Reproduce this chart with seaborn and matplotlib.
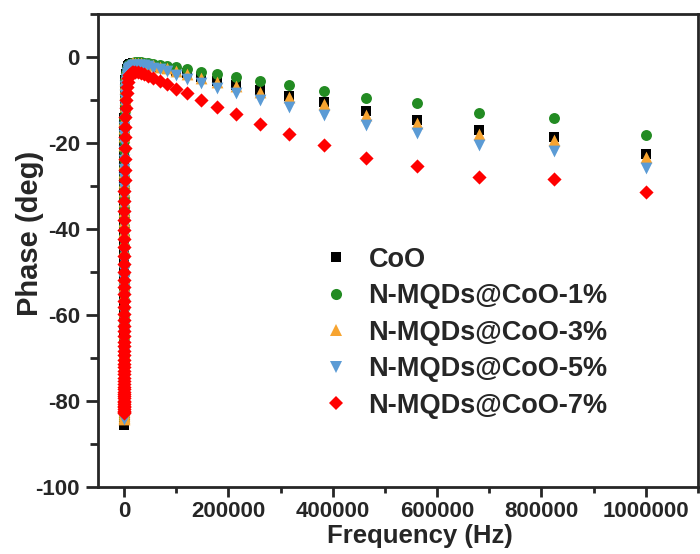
import matplotlib
matplotlib.use("Agg")
import matplotlib.pyplot as plt
import seaborn as sns
import numpy as np
import pandas as pd
from matplotlib.ticker import MultipleLocator
from matplotlib.lines import Line2D

freq = [1000000, 825000, 681000, 562000, 464000, 383000, 316000, 261000, 215000, 178000, 147000, 121000,
        100000, 82500, 68100, 56200, 46400, 38300, 31600, 26100, 21500, 17800, 14700, 12100,
        10000, 8250, 6810, 5620, 4640, 3830, 3160, 2610, 2150, 1780, 1470, 1210,
        1000, 825, 681, 562, 464, 383, 316, 261, 215, 178, 147, 121,
        100, 82.5, 68.1, 56.2, 46.4, 38.3, 31.6, 26.1, 21.5, 17.8, 14.7, 12.1,
        10, 8.25, 6.81, 5.62, 4.64, 3.83, 3.16, 2.61, 2.15, 1.78, 1.47, 1.21,
        1, 0.825, 0.681, 0.562, 0.464, 0.383, 0.316, 0.261, 0.215, 0.178, 0.147, 0.121, 0.1]

phase_coo = [-22.7, -18.7, -17.0, -14.7, -12.7, -10.6, -9.0, -7.7, -6.5, -5.6, -4.7, -3.8,
             -3.2, -2.8, -2.4, -2.1, -1.9, -1.7, -1.6, -1.5, -1.5, -1.5, -1.6, -1.7,
             -1.9, -2.1, -2.4, -2.8, -3.3, -3.9, -4.6, -5.4, -6.3, -7.3, -8.5, -9.8,
             -11.2, -12.7, -14.3, -16.0, -17.8, -19.7, -21.7, -23.8, -26.0, -28.2, -30.5, -32.8,
             -35.1, -37.4, -39.7, -42.0, -44.2, -46.4, -48.6, -50.7, -52.8, -54.8, -56.8, -58.7,
             -60.6, -62.4, -64.1, -65.8, -67.4, -68.9, -70.4, -71.8, -73.1, -74.4, -75.6, -76.7,
             -77.8, -78.8, -79.7, -80.6, -81.4, -82.1, -82.8, -83.4, -83.9, -84.4, -84.8, -85.2, -85.6]

phase_1 = [-18.2, -14.3, -13.1, -10.8, -9.6, -7.9, -6.5, -5.6, -4.6, -4.0, -3.6, -2.9,
           -2.4, -2.1, -1.9, -1.7, -1.5, -1.4, -1.3, -1.3, -1.3, -1.4, -1.5, -1.6,
           -1.8, -2.0, -2.3, -2.7, -3.2, -3.8, -4.5, -5.3, -6.2, -7.2, -8.4, -9.7,
           -11.1, -12.6, -14.2, -15.9, -17.7, -19.6, -21.6, -23.7, -25.8, -28.0, -30.2, -32.5,
           -34.8, -37.1, -39.4, -41.7, -43.9, -46.1, -48.3, -50.4, -52.5, -54.5, -56.5, -58.4,
           -60.2, -62.0, -63.7, -65.3, -66.9, -68.4, -69.8, -71.2, -72.5, -73.7, -74.9, -76.0,
           -77.0, -78.0, -78.9, -79.7, -80.5, -81.2, -81.8, -82.4, -82.9, -83.3, -83.7, -84.0, -84.3]

phase_3 = [-23.2, -19.3, -17.9, -15.3, -13.5, -11.0, -9.3, -8.1, -6.8, -5.8, -4.8, -3.9,
           -3.2, -2.7, -2.3, -2.0, -1.8, -1.6, -1.5, -1.4, -1.4, -1.4, -1.5, -1.6,
           -1.8, -2.0, -2.3, -2.7, -3.2, -3.8, -4.5, -5.3, -6.2, -7.3, -8.5, -9.9,
           -11.4, -13.0, -14.7, -16.5, -18.4, -20.4, -22.5, -24.6, -26.8, -29.0, -31.3, -33.6,
           -35.9, -38.2, -40.5, -42.7, -44.9, -47.1, -49.2, -51.3, -53.3, -55.3, -57.2, -59.0,
           -60.8, -62.5, -64.2, -65.8, -67.3, -68.8, -70.2, -71.5, -72.8, -74.0, -75.1, -76.2,
           -77.2, -78.1, -79.0, -79.8, -80.5, -81.2, -81.8, -82.4, -82.9, -83.3, -83.7, -84.0, -84.3]

phase_5 = [-25.8, -21.8, -20.5, -17.8, -15.9, -13.5, -11.6, -10.0, -8.3, -7.3, -6.1, -5.2,
           -4.2, -3.4, -2.9, -2.5, -2.2, -2.0, -1.9, -1.9, -1.9, -2.0, -2.1, -2.3,
           -2.6, -2.9, -3.3, -3.8, -4.4, -5.1, -5.9, -6.8, -7.8, -8.9, -10.1, -11.5,
           -13.0, -14.6, -16.3, -18.1, -20.0, -22.0, -24.0, -26.1, -28.2, -30.4, -32.6, -34.8,
           -37.0, -39.2, -41.4, -43.6, -45.7, -47.8, -49.9, -51.9, -53.9, -55.8, -57.7, -59.5,
           -61.2, -62.9, -64.5, -66.1, -67.6, -69.0, -70.4, -71.7, -72.9, -74.1, -75.2, -76.2,
           -77.2, -78.1, -79.0, -79.8, -80.5, -81.2, -81.8, -82.3, -82.8, -83.2, -83.6, -83.9, -84.2]

phase_7 = [-31.4, -28.3, -28.0, -25.4, -23.4, -20.4, -18.0, -15.5, -13.3, -11.6, -10.0, -8.5,
           -7.5, -6.3, -5.6, -5.0, -4.5, -4.1, -3.8, -3.6, -3.5, -3.5, -3.6, -3.9,
           -4.3, -5.0, -5.9, -7.0, -8.4, -10.0, -11.9, -14.0, -16.3, -18.7, -21.2, -23.7,
           -26.2, -28.7, -31.1, -33.5, -35.8, -38.0, -40.2, -42.3, -44.3, -46.3, -48.2, -50.0,
           -51.8, -53.5, -55.1, -56.7, -58.2, -59.7, -61.1, -62.5, -63.8, -65.0, -66.2, -67.3,
           -68.4, -69.4, -70.4, -71.3, -72.2, -73.0, -73.8, -74.6, -75.3, -76.0, -76.7, -77.3,
           -77.9, -78.4, -78.9, -79.4, -79.9, -80.3, -80.7, -81.1, -81.5, -81.9, -82.3, -82.6, -82.9]

labels = ["CoO", "N-MQDs@CoO-1%", "N-MQDs@CoO-3%", "N-MQDs@CoO-5%", "N-MQDs@CoO-7%"]
series = [phase_coo, phase_1, phase_3, phase_5, phase_7]
colors = ["#000000", "#228B22", "#F7A430", "#5B9BD5", "#FF0000"]
markers = ["s", "o", "^", "v", "D"]
sizes = [48, 62, 72, 72, 52]
leg_ms = [7, 8, 9, 9, 7.5]

xticks = [0, 200000, 400000, 600000, 800000, 1000000]
xticklabels = ["0", "200000", "400000", "600000", "800000", "1000000"]
yticks = [0, -20, -40, -60, -80, -100]
yticklabels = ["0", "-20", "-40", "-60", "-80", "-100"]

sns.set_style("ticks")
plt.rcParams['font.family'] = ['Liberation Sans', 'DejaVu Sans']
plt.rcParams['font.weight'] = 'bold'

fig = plt.figure(figsize=(7.0, 5.54), dpi=100)
ax = fig.add_axes([0.14, 0.121, 0.857, 0.854])

for lab, vals, c, m, s in zip(labels, series, colors, markers, sizes):
    df = pd.DataFrame({"Frequency": freq, "Phase": vals})
    sns.scatterplot(data=df, x="Frequency", y="Phase", marker=m, color=c, s=s,
                    linewidth=0, ax=ax, zorder=3, legend=False)

ax.set_xlim(-50000, 1100000)
ax.set_ylim(-100, 10)
ax.set_xticks(xticks)
ax.set_xticklabels(xticklabels)
ax.set_yticks(yticks)
ax.set_yticklabels(yticklabels)
ax.xaxis.set_minor_locator(MultipleLocator(100000))
ax.yaxis.set_minor_locator(MultipleLocator(10))

for sp in ax.spines.values():
    sp.set_linewidth(2.0)
    sp.set_visible(True)
ax.tick_params(axis='x', which='major', direction='out', length=7, width=2,
               labelsize=16, pad=3, top=False)
ax.tick_params(axis='y', which='major', direction='out', length=9, width=2,
               labelsize=16, pad=4, right=False)
ax.tick_params(axis='x', which='minor', direction='out', length=4, width=2, top=False)
ax.tick_params(axis='y', which='minor', direction='out', length=6, width=2, right=False)
for t in ax.get_xticklabels() + ax.get_yticklabels():
    t.set_fontweight('bold')

ax.set_xlabel("Frequency (Hz)", fontsize=18.5, fontweight='bold')
ax.set_ylabel("Phase (deg)", fontsize=21, fontweight='bold')
ax.xaxis.set_label_coords(0.537, -0.079)
ax.yaxis.set_label_coords(-0.09, 0.535)

handles = [Line2D([], [], linestyle='none', marker=m, color=c, markersize=ms, markeredgewidth=0)
           for m, c, ms in zip(markers, colors, leg_ms)]
leg = ax.legend(handles, labels, loc='upper left', bbox_to_anchor=(0.374, 0.508), frameon=False,
                prop={'size': 19.5, 'weight': 'bold'}, handlelength=1.0, handletextpad=0.7,
                labelspacing=0.39, borderaxespad=0, borderpad=0)

fig.savefig("out.png", dpi=100)
